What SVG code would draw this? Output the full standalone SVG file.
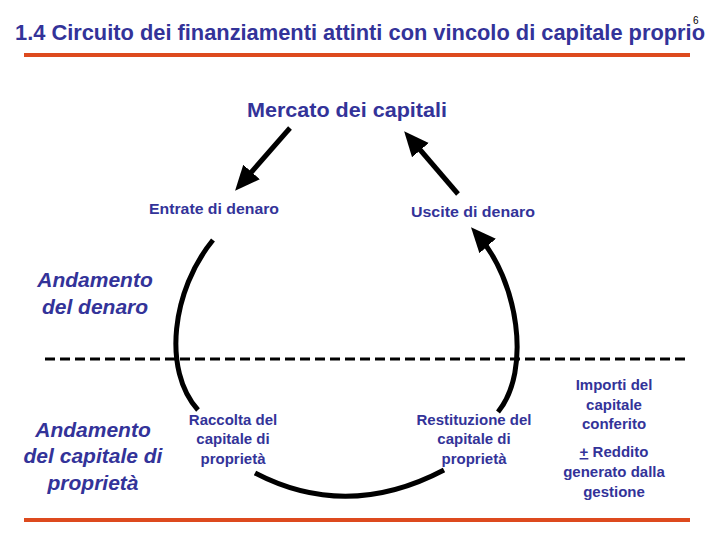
<svg xmlns="http://www.w3.org/2000/svg" width="720" height="540" viewBox="0 0 720 540">
<style>
.t{font-family:"Liberation Sans",Arial,sans-serif;fill:#333399}
.s{font-size:15px;font-weight:bold;text-anchor:middle}
.side{font-size:21px;font-weight:bold;font-style:italic;text-anchor:middle}
.c{fill:none;stroke:#000;stroke-width:5}
.rule{stroke:#DD4A1E;stroke-width:4}
</style>
<defs>
<marker id="ah" markerUnits="userSpaceOnUse" markerWidth="27" markerHeight="24" refX="16" refY="12" orient="auto" viewBox="0 0 27 24">
<path d="M0,1 L25,12 L0,23 Z" fill="#000"/>
</marker>
</defs>
<rect width="720" height="540" fill="#fff"/>
<g id="title">
<text class="t" x="15" y="40" font-size="22" font-weight="bold" textLength="690" lengthAdjust="spacingAndGlyphs">1.4 Circuito dei finanziamenti attinti con vincolo di capitale proprio</text>
<text x="693" y="24" font-family="Liberation Sans,Arial,sans-serif" font-size="10" fill="#000">6</text>
</g>
<line class="rule" x1="24" y1="55" x2="690" y2="55"/>
<line class="rule" x1="24" y1="520" x2="690" y2="520"/>
<line x1="45" y1="359" x2="686" y2="359" stroke="#000" stroke-width="3" stroke-dasharray="10,5"/>
<g id="mercato"><text class="t" x="347" y="117" font-size="20" font-weight="bold" text-anchor="middle" textLength="200" lengthAdjust="spacingAndGlyphs">Mercato dei capitali</text></g>
<g id="entrate"><text class="t" x="214" y="214" font-size="15" font-weight="bold" text-anchor="middle" textLength="130" lengthAdjust="spacingAndGlyphs">Entrate di denaro</text></g>
<g id="uscite"><text class="t" x="473" y="217" font-size="15" font-weight="bold" text-anchor="middle" textLength="124" lengthAdjust="spacingAndGlyphs">Uscite di denaro</text></g>
<g id="and-denaro"><text class="t side" x="95" y="287">Andamento</text><text class="t side" x="95" y="314">del denaro</text></g>
<g id="and-capitale"><text class="t side" x="93" y="437">Andamento</text><text class="t side" x="93" y="463">del capitale di</text><text class="t side" x="93" y="490">proprietà</text></g>
<g id="raccolta"><text class="t s" x="233" y="425">Raccolta del</text><text class="t s" x="233" y="444">capitale di</text><text class="t s" x="233" y="464">proprietà</text></g>
<g id="restituzione"><text class="t s" x="474" y="425">Restituzione del</text><text class="t s" x="474" y="444">capitale di</text><text class="t s" x="474" y="464">proprietà</text></g>
<g id="importi"><text class="t s" x="614" y="390">Importi del</text><text class="t s" x="614" y="410">capitale</text><text class="t s" x="614" y="429">conferito</text>
<text class="t s" x="614" y="457"><tspan text-decoration="underline">+</tspan> Reddito</text><text class="t s" x="614" y="477">generato dalla</text><text class="t s" x="614" y="497">gestione</text></g>
<g id="connectors">
<line class="c" x1="290" y1="128" x2="241" y2="184" marker-end="url(#ah)"/>
<line class="c" x1="458" y1="194" x2="410" y2="138" marker-end="url(#ah)"/>
<path class="c" d="M213,240 C172,290 162,370 198,410"/>
<path class="c" d="M255,473 Q347,521 444,470"/>
<path class="c" d="M498,412 C532,370 518,280 477,234" marker-end="url(#ah)"/>
</g>
</svg>
